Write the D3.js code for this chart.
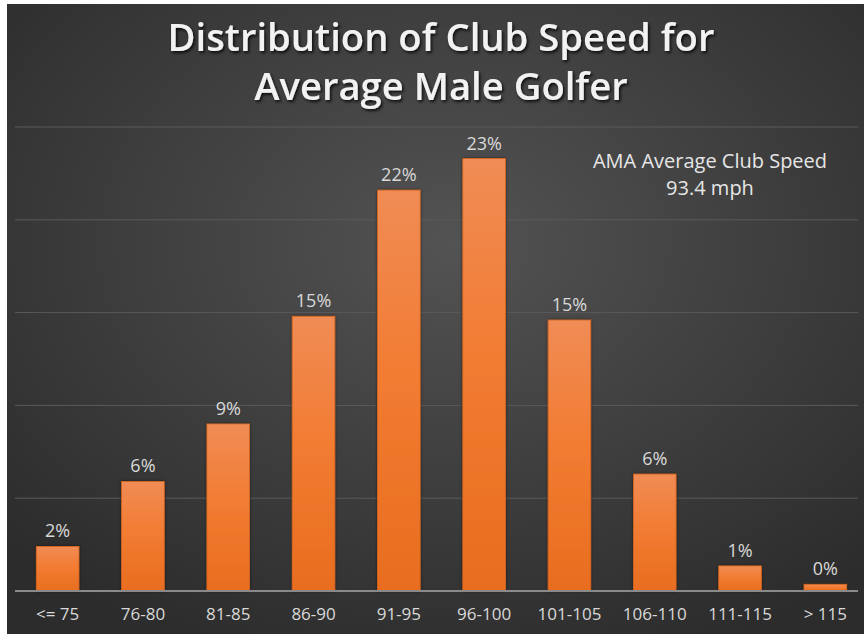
<!DOCTYPE html>
<html>
<head>
<meta charset="utf-8">
<script src="https://cdn.jsdelivr.net/npm/d3@7"></script>
<style>
  body { margin: 0; background: #fff; }
  text { font-family: "Open Sans", Lato, sans-serif; }
</style>
</head>
<body>
<svg id="chart"></svg>
<script>
// data
var categories = ["<= 75", "76-80", "81-85", "86-90", "91-95", "96-100", "101-105", "106-110", "111-115", "> 115"];
var shares = [0.024, 0.059, 0.090, 0.148, 0.216, 0.233, 0.146, 0.063, 0.0135, 0.0036];
var titleLines = ["Distribution of Club Speed for", "Average Male Golfer"];
var noteLines = ["AMA Average Club Speed", "93.4 mph"];

var W = 864, H = 634;
var svg = d3.select("#chart").attr("width", W).attr("height", H);

var defs = svg.append("defs");
// background gradient
var bg = defs.append("radialGradient").attr("id", "bg")
    .attr("cx", "52%").attr("cy", "38%").attr("r", "70%");
bg.append("stop").attr("offset", "0%").attr("stop-color", "#535353");
bg.append("stop").attr("offset", "100%").attr("stop-color", "#2c2c2c");
// bar gradient
var bar = defs.append("linearGradient").attr("id", "barfill")
    .attr("x1", 0).attr("y1", 0).attr("x2", 0).attr("y2", 1);
bar.append("stop").attr("offset", "0%").attr("stop-color", "#f08c55");
bar.append("stop").attr("offset", "45%").attr("stop-color", "#f27c33");
bar.append("stop").attr("offset", "100%").attr("stop-color", "#e86d1f");
// shadow for the title
var sh = defs.append("filter").attr("id", "shadow")
    .attr("x", "-10%").attr("y", "-20%").attr("width", "120%").attr("height", "150%");
sh.append("feDropShadow").attr("dx", 1.5).attr("dy", 2).attr("stdDeviation", 1.5)
    .attr("flood-color", "#000").attr("flood-opacity", 0.8);
var bsh = defs.append("filter").attr("id", "barshadow")
    .attr("x", "-20%").attr("y", "-10%").attr("width", "140%").attr("height", "120%");
bsh.append("feDropShadow").attr("dx", 0).attr("dy", 0).attr("stdDeviation", 1.5)
    .attr("flood-color", "#000").attr("flood-opacity", 0.5);

svg.append("rect").attr("x", 7).attr("y", 4).attr("width", W - 7).attr("height", H - 4)
    .attr("fill", "url(#bg)");

// scales
var x = d3.scaleBand().domain(categories).range([15, 868]).paddingInner(0.5).paddingOuter(0.25);
var y = d3.scaleLinear().domain([0, 0.25]).range([591, 127]);

// gridlines
svg.append("g").selectAll("line").data(y.ticks(5).filter(function(d){ return d > 0; }))
  .enter().append("line")
    .attr("x1", 15).attr("x2", 858)
    .attr("y1", function(d){ return y(d); }).attr("y2", function(d){ return y(d); })
    .attr("stroke", "#5a5a5a").attr("stroke-width", 1);

// bars
svg.append("g").selectAll("rect").data(shares).enter().append("rect")
    .attr("x", function(d, i){ return x(categories[i]); })
    .attr("y", function(d){ return y(d); })
    .attr("width", x.bandwidth())
    .attr("height", function(d){ return y(0) - y(d); })
    .attr("fill", "url(#barfill)")
    .attr("stroke", "#d9661e").attr("stroke-width", 0.8)
    .attr("filter", "url(#barshadow)");

// value labels
var fmt = d3.format(".0%");
svg.append("g").selectAll("text").data(shares).enter().append("text")
    .attr("x", function(d, i){ return x(categories[i]) + x.bandwidth() / 2; })
    .attr("y", function(d){ return y(d) - 9; })
    .attr("text-anchor", "middle")
    .attr("font-size", 18)
    .attr("fill", "#d9d9d9")
    .text(function(d){ return fmt(d); });

// x axis
var xAxis = d3.axisBottom(x).tickSize(0).tickPadding(17);
var gx = svg.append("g").attr("transform", "translate(0," + y(0) + ")").call(xAxis);
gx.select(".domain").attr("d", "M15,0H858").attr("stroke", "#8a8a8a").attr("stroke-width", 2);
gx.selectAll("text").attr("font-size", 17).attr("fill", "#d9d9d9")
    .attr("font-family", "'Open Sans', sans-serif");

// title
var titles = svg.append("g").selectAll("text").data(titleLines).enter().append("text")
    .attr("x", 441)
    .attr("y", function(d, i){ return 51 + i * 49; })
    .attr("text-anchor", "middle")
    .attr("font-size", 32)
    .attr("font-weight", 600)
    .attr("fill", "#f2f2f2")
    .attr("filter", "url(#shadow)")
    .text(function(d){ return d; });
// fit the first line to the width it has in the picture
var w0 = titles.node().getComputedTextLength();
var fs = Math.min(40, 32 * 547 / w0);
titles.attr("font-size", fs);

// annotation
svg.append("g").selectAll("text").data(noteLines).enter().append("text")
    .attr("x", 710)
    .attr("y", function(d, i){ return 168 + i * 27; })
    .attr("text-anchor", "middle")
    .attr("font-size", 20)
    .attr("fill", "#e6e6e6")
    .text(function(d){ return d; });
</script>
</body>
</html>
